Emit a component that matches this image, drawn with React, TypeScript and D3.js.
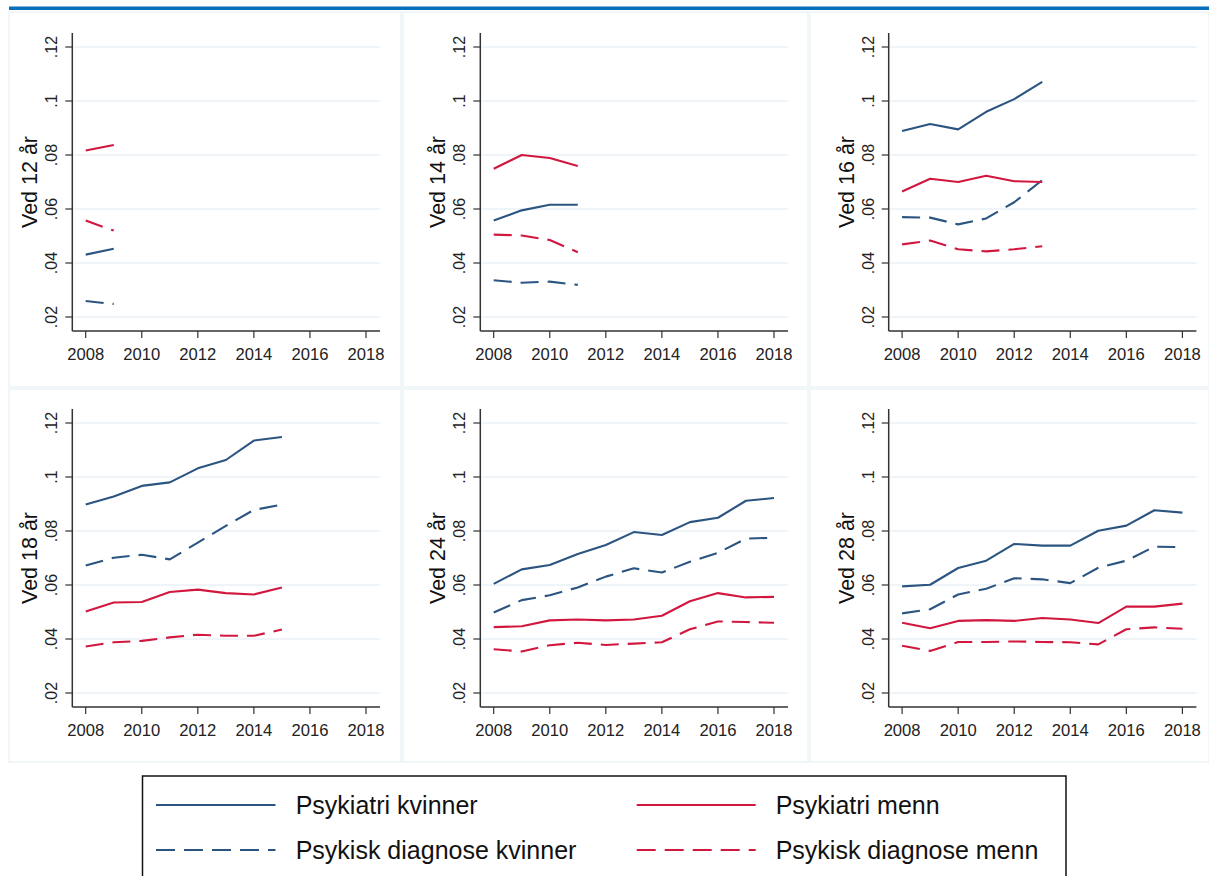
import React from "react";
import * as d3 from "d3";

const years = [2008, 2009, 2010, 2011, 2012, 2013, 2014, 2015, 2016, 2017, 2018];
const xTicks = [2008, 2010, 2012, 2014, 2016, 2018];
const yTicks = [0.02, 0.04, 0.06, 0.08, 0.1, 0.12];
const yTickLabels = [".02", ".04", ".06", ".08", ".1", ".12"];
const panelTitles = ["Ved 12 år", "Ved 14 år", "Ved 16 år", "Ved 18 år", "Ved 24 år", "Ved 28 år"];
const seriesNames = ["Psykiatri kvinner", "Psykisk diagnose kvinner", "Psykiatri menn", "Psykisk diagnose menn"];

// per panel, values from 2008 onward
const psykiatriKvinner = [
  [0.0431, 0.0453],
  [0.0557, 0.0595, 0.0616, 0.0616],
  [0.0889, 0.0915, 0.0895, 0.096, 0.1007, 0.1071],
  [0.0898, 0.0928, 0.0967, 0.098, 0.1032, 0.1063, 0.1135, 0.1148],
  [0.0604, 0.0658, 0.0674, 0.0715, 0.0748, 0.0796, 0.0785, 0.0833, 0.0849, 0.0912, 0.0922],
  [0.0595, 0.0601, 0.0663, 0.069, 0.0752, 0.0746, 0.0746, 0.0801, 0.082, 0.0877, 0.0868],
];
const diagnoseKvinner = [
  [0.0259, 0.0248],
  [0.0336, 0.0327, 0.0331, 0.0319],
  [0.057, 0.0568, 0.0543, 0.0565, 0.0625, 0.0707],
  [0.0672, 0.0701, 0.0712, 0.0695, 0.0757, 0.0819, 0.0878, 0.0898],
  [0.0498, 0.0544, 0.0562, 0.0591, 0.0631, 0.0662, 0.0646, 0.0686, 0.0719, 0.0772, 0.0775],
  [0.0495, 0.051, 0.0565, 0.0586, 0.0625, 0.0621, 0.0607, 0.0664, 0.069, 0.0742, 0.074],
];
const psykiatriMenn = [
  [0.0817, 0.0837],
  [0.0749, 0.08, 0.0789, 0.0759],
  [0.0665, 0.0712, 0.07, 0.0723, 0.0703, 0.07],
  [0.0502, 0.0535, 0.0537, 0.0574, 0.0583, 0.057, 0.0565, 0.0591],
  [0.0444, 0.0447, 0.0469, 0.0472, 0.0469, 0.0472, 0.0486, 0.054, 0.057, 0.0554, 0.0556],
  [0.046, 0.044, 0.0467, 0.047, 0.0467, 0.0478, 0.0472, 0.0459, 0.052, 0.052, 0.0531],
];
const diagnoseMenn = [
  [0.0557, 0.052],
  [0.0505, 0.0502, 0.0485, 0.044],
  [0.0469, 0.0483, 0.0451, 0.0443, 0.0451, 0.0462],
  [0.0372, 0.0388, 0.0393, 0.0406, 0.0416, 0.0412, 0.0412, 0.0435],
  [0.0362, 0.0354, 0.0377, 0.0386, 0.0378, 0.0383, 0.0388, 0.0436, 0.0465, 0.0463, 0.046],
  [0.0375, 0.0356, 0.0389, 0.0389, 0.0391, 0.0389, 0.0388, 0.038, 0.0436, 0.0443, 0.0438],
];

const BLUE = "#2b5580";
const RED = "#d2173f";
const FONT = "'Liberation Sans', Arial, Helvetica, sans-serif";
const DASH = "18,9";

const seriesData = [psykiatriKvinner, diagnoseKvinner, psykiatriMenn, diagnoseMenn];
const seriesColor = [BLUE, BLUE, RED, RED];
const seriesDash = [null, DASH, null, DASH];

const colOffsets = [0, 408, 816.4];
const rowOffsets = [0, 376];

function Panel({ idx }: { idx: number }) {
  const ox = colOffsets[idx % 3];
  const oy = rowOffsets[Math.floor(idx / 3)];
  const axisX = 72.3;
  const rightX = 380;
  const x = d3.scaleLinear().domain([2008, 2018]).range([85.7, 366]);
  const y = d3.scaleLinear().domain([0.02, 0.12]).range([317, 47]);
  const axisTop = 33;
  const axisBottom = 331;
  const line = d3
    .line<number>()
    .x((_, i) => x(years[i]))
    .y((v) => y(v));
  return (
    <g transform={`translate(${ox},${oy})`}>
      {yTicks.map((t, i) => (
        <g key={"y" + i}>
          <line x1={axisX} x2={rightX} y1={y(t)} y2={y(t)} stroke="#eaf1f7" strokeWidth={1.5} />
          <line x1={axisX - 7} x2={axisX} y1={y(t)} y2={y(t)} stroke="#333" strokeWidth={1.2} />
          <text
            transform={`translate(${axisX - 15},${y(t)}) rotate(-90)`}
            textAnchor="middle"
            fontSize={16}
            fontFamily={FONT}
            fill="#222"
          >
            {yTickLabels[i]}
          </text>
        </g>
      ))}
      {xTicks.map((t, i) => (
        <g key={"x" + i}>
          <line x1={x(t)} x2={x(t)} y1={axisBottom} y2={axisBottom + 7} stroke="#333" strokeWidth={1.2} />
          <text x={x(t)} y={axisBottom + 28.5} textAnchor="middle" fontSize={16.6} fontFamily={FONT} fill="#222">
            {t}
          </text>
        </g>
      ))}
      <line x1={axisX} x2={axisX} y1={axisTop} y2={axisBottom} stroke="#333" strokeWidth={1.5} />
      <line x1={axisX} x2={rightX} y1={axisBottom} y2={axisBottom} stroke="#333" strokeWidth={1.5} />
      <text
        transform={`translate(${axisX - 35},${(axisTop + axisBottom) / 2}) rotate(-90)`}
        textAnchor="middle"
        fontSize={21.5}
        fontFamily={FONT}
        fill="#111"
      >
        {panelTitles[idx]}
      </text>
      {seriesData.map((s, si) => (
        <path
          key={"s" + si}
          d={line(s[idx]) || ""}
          fill="none"
          stroke={seriesColor[si]}
          strokeWidth={2.1}
          strokeDasharray={seriesDash[si] || undefined}
          strokeLinejoin="round"
        />
      ))}
    </g>
  );
}

export default function App() {
  const panelRects = [
    [9, 12, 392, 375],
    [403, 12, 405, 375],
    [810, 12, 399, 375],
    [9, 389, 392, 373],
    [403, 389, 405, 373],
    [810, 389, 399, 373],
  ];
  const legendItems = [
    { col: 0, row: 0, s: 0 },
    { col: 0, row: 1, s: 1 },
    { col: 1, row: 0, s: 2 },
    { col: 1, row: 1, s: 3 },
  ];
  const legendLineX = [[156, 275.5], [636.7, 755.7]];
  const legendTextX = [295.7, 775.7];
  const legendRowY = [805, 850];
  return (
    <svg
      width={1209}
      height={876}
      style={{ position: "absolute", left: 0, top: 0, background: "#fff" }}
    >
      <rect x={0} y={0} width={1209} height={876} fill="#fff" />
      {panelRects.map((r, i) => (
        <rect key={i} x={r[0]} y={r[1]} width={r[2]} height={r[3]} fill="none" stroke="#edf3f6" strokeWidth={1.5} />
      ))}
      <rect x={9} y={6.5} width={1200} height={3.5} fill="#0a6fb9" />
      {[0, 1, 2, 3, 4, 5].map((i) => (
        <Panel key={i} idx={i} />
      ))}
      <rect x={142.5} y={776} width={923.5} height={110} fill="#fff" stroke="#111" strokeWidth={1.5} />
      {legendItems.map((it, i) => (
        <g key={i}>
          <line
            x1={legendLineX[it.col][0]}
            x2={legendLineX[it.col][1]}
            y1={legendRowY[it.row]}
            y2={legendRowY[it.row]}
            stroke={seriesColor[it.s]}
            strokeWidth={2.2}
            strokeDasharray={it.row === 1 ? "19,9" : undefined}
          />
          <text
            x={legendTextX[it.col]}
            y={legendRowY[it.row] + 9}
            fontSize={25}
            fontFamily={FONT}
            fill="#111"
          >
            {seriesNames[it.s]}
          </text>
        </g>
      ))}
    </svg>
  );
}
